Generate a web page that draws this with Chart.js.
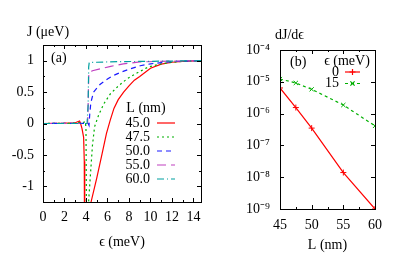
<!DOCTYPE html>
<html>
<head>
<meta charset="utf-8">
<script src="https://cdn.jsdelivr.net/npm/chart.js"></script>
<style>
  body { margin: 0; background: #fff; }
  #wrap { position: relative; width: 396px; height: 277px; overflow: hidden; font-family: "Liberation Serif", serif; font-size: 14px; color: #000; }
  canvas { position: absolute; top: 0; }
  .txt { position: absolute; line-height: 14px; white-space: nowrap; }
</style>
</head>
<body>
<div id="wrap">
  <canvas id="panelA" width="220" height="277" style="left:0"></canvas>
  <canvas id="panelB" width="176" height="277" style="left:220px"></canvas>
  <div class="txt" style="left:27px;top:25px">J (μeV)</div>
  <div class="txt" style="left:51px;top:51px">(a)</div>
  <div class="txt" style="left:275px;top:28px">dJ/dϵ</div>
  <div class="txt" style="left:290px;top:55px">(b)</div>
</div>
<script>
// panel (a): J vs eps for several L
const lengths = ['45.0', '47.5', '50.0', '55.0', '60.0'];

const eps45 = [0, 2, 3, 3.4, 3.5, 3.63, 3.78, 3.84, 3.87, 3.9, 4.4, 4.47, 5.0, 5.5, 5.9, 6.25, 6.6, 7.0, 7.5, 8.0, 8.5, 9.0, 10, 11, 12, 13, 14.7];
const j45   = [0, 0.005, 0.012, 0.04, 0.0, -0.08, -0.22, -0.6, -1.3, -3, -3, -1.25, -0.87, -0.48, -0.16, 0.05, 0.24, 0.38, 0.5, 0.6, 0.69, 0.75, 0.88, 0.945, 0.975, 0.99, 1.0];

const eps475 = [0, 3, 3.8, 3.95, 4.0, 4.03, 4.06, 4.2, 4.24, 4.4, 4.6, 4.8, 5.17, 5.64, 6.26, 7.03, 7.81, 8.59, 9.8, 11, 12, 13, 14.7];
const j475   = [0, 0.005, 0.02, 0.03, -0.1, -1.0, -3, -3, -1.25, -0.85, -0.35, -0.05, 0.13, 0.31, 0.47, 0.6, 0.71, 0.79, 0.9, 0.95, 0.975, 0.99, 1.0];

const eps50 = [0, 3.8, 4.2, 4.28, 4.35, 4.45, 4.7, 5.3, 6.0, 6.5, 7.3, 8.1, 9.05, 10, 11, 12, 13, 14.7];
const j50   = [0, 0.003, 0.0, -0.03, 0.15, 0.33, 0.5, 0.62, 0.71, 0.76, 0.82, 0.87, 0.92, 0.95, 0.97, 0.985, 0.993, 1.0];

const eps55 = [0, 4.0, 4.15, 4.2, 4.25, 4.3, 4.6, 5.33, 6.3, 7.47, 9, 11, 14.7];
const j55   = [0, 0.0, 0.0, 0.3, 0.75, 0.81, 0.84, 0.87, 0.91, 0.95, 0.98, 0.99, 1.0];

const eps60 = [0, 4.1, 4.2, 4.25, 4.3, 5, 7, 10, 14.7];
const j60   = [0, 0.0, 0.3, 0.9, 0.97, 0.975, 0.985, 0.99, 1.0];

// panel (b): dJ/deps vs L
const lengthsB = [45, 47.5, 50, 55, 60];
const dJ0  = [6.4e-6, 1.55e-6, 3.5e-7, 1.4e-8, 1.0e-9];
const dJ15 = [1.22e-5, 9.2e-6, 5.8e-6, 1.86e-6, 4.1e-7];

const font = { family: 'Liberation Serif', size: 14 };
const sup = { '-': '⁻', '0': '⁰', '1': '¹', '2': '²', '3': '³', '4': '⁴', '5': '⁵', '6': '⁶', '7': '⁷', '8': '⁸', '9': '⁹' };

function pts(xs, ys) {
  return xs.map((x, i) => ({ x: x, y: ys[i] }));
}

// box around the plot with gnuplot style inward ticks
const frameTicks = {
  id: 'frameTicks',
  afterDraw(chart) {
    const ctx = chart.ctx;
    const a = chart.chartArea;
    ctx.save();
    ctx.strokeStyle = '#000';
    ctx.lineWidth = 1;
    ctx.setLineDash([]);
    Object.values(chart.scales).forEach(s => {
      s.ticks.forEach(t => {
        if (!t.label && s.type === 'logarithmic') return;
        const len = t.label ? 4 : 2;
        const p = Math.round(s.getPixelForValue(t.value)) + 0.5;
        ctx.beginPath();
        if (s.isHorizontal()) {
          ctx.moveTo(p, a.bottom); ctx.lineTo(p, a.bottom - len);
          ctx.moveTo(p, a.top); ctx.lineTo(p, a.top + len);
        } else {
          ctx.moveTo(a.left, p); ctx.lineTo(a.left + len, p);
          ctx.moveTo(a.right, p); ctx.lineTo(a.right - len, p);
        }
        ctx.stroke();
      });
    });
    ctx.strokeRect(a.left + 0.5, a.top + 0.5, a.right - a.left, a.bottom - a.top);
    ctx.restore();
  }
};

// key drawn inside the plot: label on the left, sample on the right
const keyBox = {
  id: 'keyBox',
  afterDraw(chart, args, o) {
    const ctx = chart.ctx;
    ctx.save();
    ctx.font = '14px "Liberation Serif"';
    ctx.fillStyle = '#000';
    ctx.textBaseline = 'middle';
    ctx.textAlign = 'center';
    ctx.fillText(o.title, o.titleX, o.titleY);
    ctx.textAlign = 'right';
    chart.data.datasets.forEach((ds, i) => {
      const y = o.y0 + i * o.dy;
      ctx.fillText(ds.label, o.textX, y);
      ctx.strokeStyle = ds.borderColor;
      ctx.lineWidth = ds.borderWidth;
      ctx.setLineDash(ds.borderDash || []);
      ctx.beginPath();
      ctx.moveTo(o.x1, y);
      ctx.lineTo(o.x2, y);
      ctx.stroke();
      if (ds.pointRadius) {
        const r = ds.pointRadius, c = (o.x1 + o.x2) / 2;
        ctx.setLineDash([]);
        ctx.beginPath();
        if (ds.pointStyle === 'crossRot') {
          const d = r * 0.7071;
          ctx.moveTo(c - d, y - d); ctx.lineTo(c + d, y + d);
          ctx.moveTo(c - d, y + d); ctx.lineTo(c + d, y - d);
        } else {
          ctx.moveTo(c - r, y); ctx.lineTo(c + r, y);
          ctx.moveTo(c, y - r); ctx.lineTo(c, y + r);
        }
        ctx.stroke();
      }
    });
    ctx.restore();
  }
};

const styleA = [
  { color: '#ff0000', dash: [] },
  { color: '#00b000', dash: [2, 3] },
  { color: '#1a1aff', dash: [5, 4] },
  { color: '#c040c0', dash: [9, 5] },
  { color: '#00a0a0', dash: [7, 3, 1, 3] }
];
const seriesA = [pts(eps45, j45), pts(eps475, j475), pts(eps50, j50), pts(eps55, j55), pts(eps60, j60)];

const ctx = document.getElementById('panelA').getContext('2d');
const panelA = new Chart(ctx, {
  type: 'line',
  data: {
    datasets: seriesA.map((d, i) => ({
      label: lengths[i],
      data: d,
      borderColor: styleA[i].color,
      borderDash: styleA[i].dash,
      borderWidth: 1.2,
      pointRadius: 0,
      fill: false,
      order: 5 - i
    }))
  },
  options: {
    responsive: false,
    animation: false,
    layout: { padding: { left: 0, right: 19, top: 45, bottom: 26 } },
    scales: {
      x: {
        type: 'linear',
        min: 0,
        max: 14.7,
        afterFit: s => { s.height = 49; },
        afterBuildTicks: s => {
          s.ticks = [];
          for (let v = 0; v <= 14; v++) s.ticks.push({ value: v });
        },
        grid: { display: false, drawTicks: false },
        border: { display: false },
        ticks: {
          autoSkip: false,
          maxRotation: 0,
          padding: 7,
          color: '#000',
          font: font,
          callback: v => (v % 2 === 0) ? String(v) : ''
        },
        title: { display: true, text: 'ϵ (meV)', color: '#000', font: font, padding: 0 }
      },
      y: {
        min: -1.25,
        max: 1.25,
        afterFit: s => { s.width = 43; },
        grid: { display: false, drawTicks: false },
        border: { display: false },
        ticks: {
          stepSize: 0.25,
          autoSkip: false,
          padding: 9,
          color: '#000',
          font: font,
          callback: v => (Math.abs(v * 2 - Math.round(v * 2)) < 1e-9 && Math.abs(v) < 1.2) ? String(v) : ''
        }
      }
    },
    plugins: {
      legend: { display: false },
      tooltip: { enabled: false },
      keyBox: { title: 'L (nm)', titleX: 146, titleY: 108, textX: 150, x1: 157, x2: 175, y0: 123, dy: 14 }
    }
  },
  plugins: [frameTicks, keyBox]
});

const ctx_2 = document.getElementById('panelB').getContext('2d');
const panelB = new Chart(ctx_2, {
  type: 'line',
  data: {
    datasets: [{
      label: '0',
      data: pts(lengthsB, dJ0),
      borderColor: '#ff0000',
      borderWidth: 1.2,
      pointStyle: 'cross',
      pointRadius: 3,
      pointBorderWidth: 1,
      fill: false
    }, {
      label: '15',
      data: pts(lengthsB, dJ15),
      borderColor: '#00b000',
      borderDash: [3, 3],
      borderWidth: 1.2,
      pointStyle: 'crossRot',
      pointRadius: 3,
      pointBorderWidth: 1,
      fill: false
    }]
  },
  options: {
    responsive: false,
    animation: false,
    layout: { padding: { left: 0, right: 21, top: 50, bottom: 23 } },
    scales: {
      x: {
        type: 'linear',
        min: 45,
        max: 60,
        afterFit: s => { s.height = 45; },
        grid: { display: false, drawTicks: false },
        border: { display: false },
        ticks: {
          stepSize: 2.5,
          autoSkip: false,
          maxRotation: 0,
          padding: 8,
          color: '#000',
          font: font,
          callback: v => (v % 5 === 0) ? String(v) : ''
        },
        title: { display: true, text: 'L (nm)', color: '#000', font: font, padding: 0 }
      },
      y: {
        type: 'logarithmic',
        min: 1e-9,
        max: 1e-4,
        afterFit: s => { s.width = 60; },
        grid: { display: false, drawTicks: false },
        border: { display: false },
        ticks: {
          autoSkip: false,
          padding: 10,
          color: '#000',
          font: font,
          callback: v => {
            const e = Math.round(Math.log10(v));
            if (Math.abs(v / Math.pow(10, e) - 1) > 1e-6) return '';
            return '10' + String(e).split('').map(c => sup[c]).join('');
          }
        }
      }
    },
    plugins: {
      legend: { display: false },
      tooltip: { enabled: false },
      keyBox: { title: 'ϵ (meV)', titleX: 127, titleY: 61, textX: 119, x1: 125, x2: 140, y0: 72, dy: 11.5 }
    }
  },
  plugins: [frameTicks, keyBox]
});
</script>
</body>
</html>
